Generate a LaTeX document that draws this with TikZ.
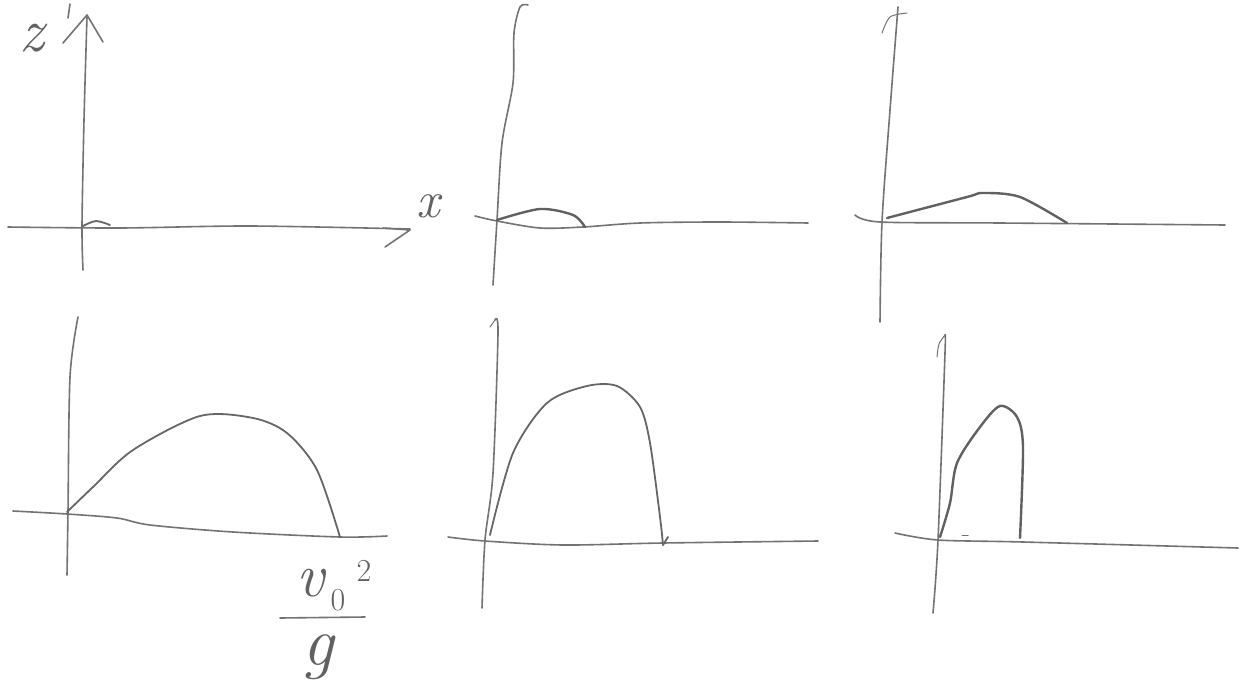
\documentclass[tikz,border=0pt]{standalone}
\usepackage{fontspec}
\setmainfont{Latin Modern Roman}
\begin{document}
\begin{tikzpicture}[x=1pt,y=-1pt,line cap=round,line join=round,
  axis/.style={draw=black!55,line width=1.6pt},
  traj/.style={draw=black!62,line width=2.4pt},
  thintraj/.style={draw=black!60,line width=1.8pt},
  lbl/.style={text=black!62,inner sep=0pt,font=\fontsize{62}{62}\selectfont\itshape},
  sublbl/.style={text=black!62,inner sep=0pt,font=\fontsize{32}{32}\selectfont}]
\useasboundingbox (0,0) rectangle (1241,685);
% ---------- panel 1 (top left) ----------
\draw[axis] plot[smooth] coordinates {(83,270) (82,226) (84,120) (87,17)};
\draw[axis] (63,43) -- (87,15) -- (103,42);
\draw[axis] (70,4) -- (68,18);
\draw[axis] plot[smooth] coordinates {(8,227) (120,228) (250,226) (410,229)};
\draw[axis] (383,228) -- (410,230) -- (385,247);
\draw[thintraj] plot[smooth] coordinates {(83,226) (96,221) (110,225)};
\node[lbl] (zlab) at (32,38) {z};
\node[lbl,font=\fontsize{52}{52}\selectfont\itshape] (xlab) at (428,206) {x};
% ---------- panel 2 (top middle) ----------
\draw[axis] plot[smooth] coordinates {(493,285) (497,220) (502,143) (513,83) (514,33) (520,7) (528,5)};
\draw[axis] plot[smooth] coordinates {(475,216) (497,221) (540,228) (583,227) (640,223) (720,222) (808,223)};
\draw[traj] plot[smooth] coordinates {(497,220) (540,209) (573,215) (585,227)};
% ---------- panel 3 (top right) ----------
\draw[axis] plot[smooth] coordinates {(880,322) (882,222) (890,110) (898,7)};
\draw[axis,line width=1pt] plot[smooth] coordinates {(882,33) (890,17) (907,13)};
\draw[axis] plot[smooth] coordinates {(855,215) (880,222) (1000,223) (1225,225)};
\draw[traj] plot[smooth] coordinates {(887,218) (967,197) (983,193) (1020,197) (1067,223)};
% ---------- panel 4 (bottom left) ----------
\draw[axis] plot[smooth] coordinates {(67,575) (68,512) (70,377) (78,317)};
\draw[axis] plot[smooth] coordinates {(13,511) (67,514) (117,518) (150,525) (233,532) (340,537) (387,536)};
\draw[thintraj] plot[smooth] coordinates {(67,512) (93,487) (133,450) (200,416) (253,418) (287,433) (317,470) (340,537)};
\node[lbl] (vlab) at (310,583) {v};
\node[sublbl] (zerolab) at (338,600) {0};
\node[sublbl] (twolab) at (364,571) {2};
\draw[axis] (280,618) -- (365,617);
\node[lbl,font=\fontsize{70}{70}\selectfont\itshape] (glab) at (318,657) {g};
% ---------- panel 5 (bottom middle) ----------
\draw[axis] plot[smooth] coordinates {(482,608) (485,540) (493,473) (498,333) (495,320)};
\draw[axis,line width=1pt] (495,320) -- (490,327);
\draw[axis] plot[smooth] coordinates {(448,537) (485,541) (563,545) (663,543) (818,541)};
\draw[thintraj] plot[smooth] coordinates {(490,535) (513,453) (547,403) (587,386) (617,386) (640,407) (650,443) (660,517) (663,545)};
\draw[thintraj] (663,545) -- (668,537);
% ---------- panel 6 (bottom right) ----------
\draw[axis] plot[smooth] coordinates {(933,613) (938,540) (945,353) (945,337)};
\draw[axis,line width=1pt] plot[smooth] coordinates {(937,357) (939,344) (945,335)};
\draw[axis] plot[smooth] coordinates {(895,533) (938,540) (1023,542) (1238,548)};
\draw[traj] plot[smooth] coordinates {(940,537) (950,503) (957,463) (980,427) (1000,406) (1017,417) (1023,447) (1020,538)};
\draw[axis,line width=1pt] (962,535) -- (968,535);
\end{tikzpicture}
\end{document}
